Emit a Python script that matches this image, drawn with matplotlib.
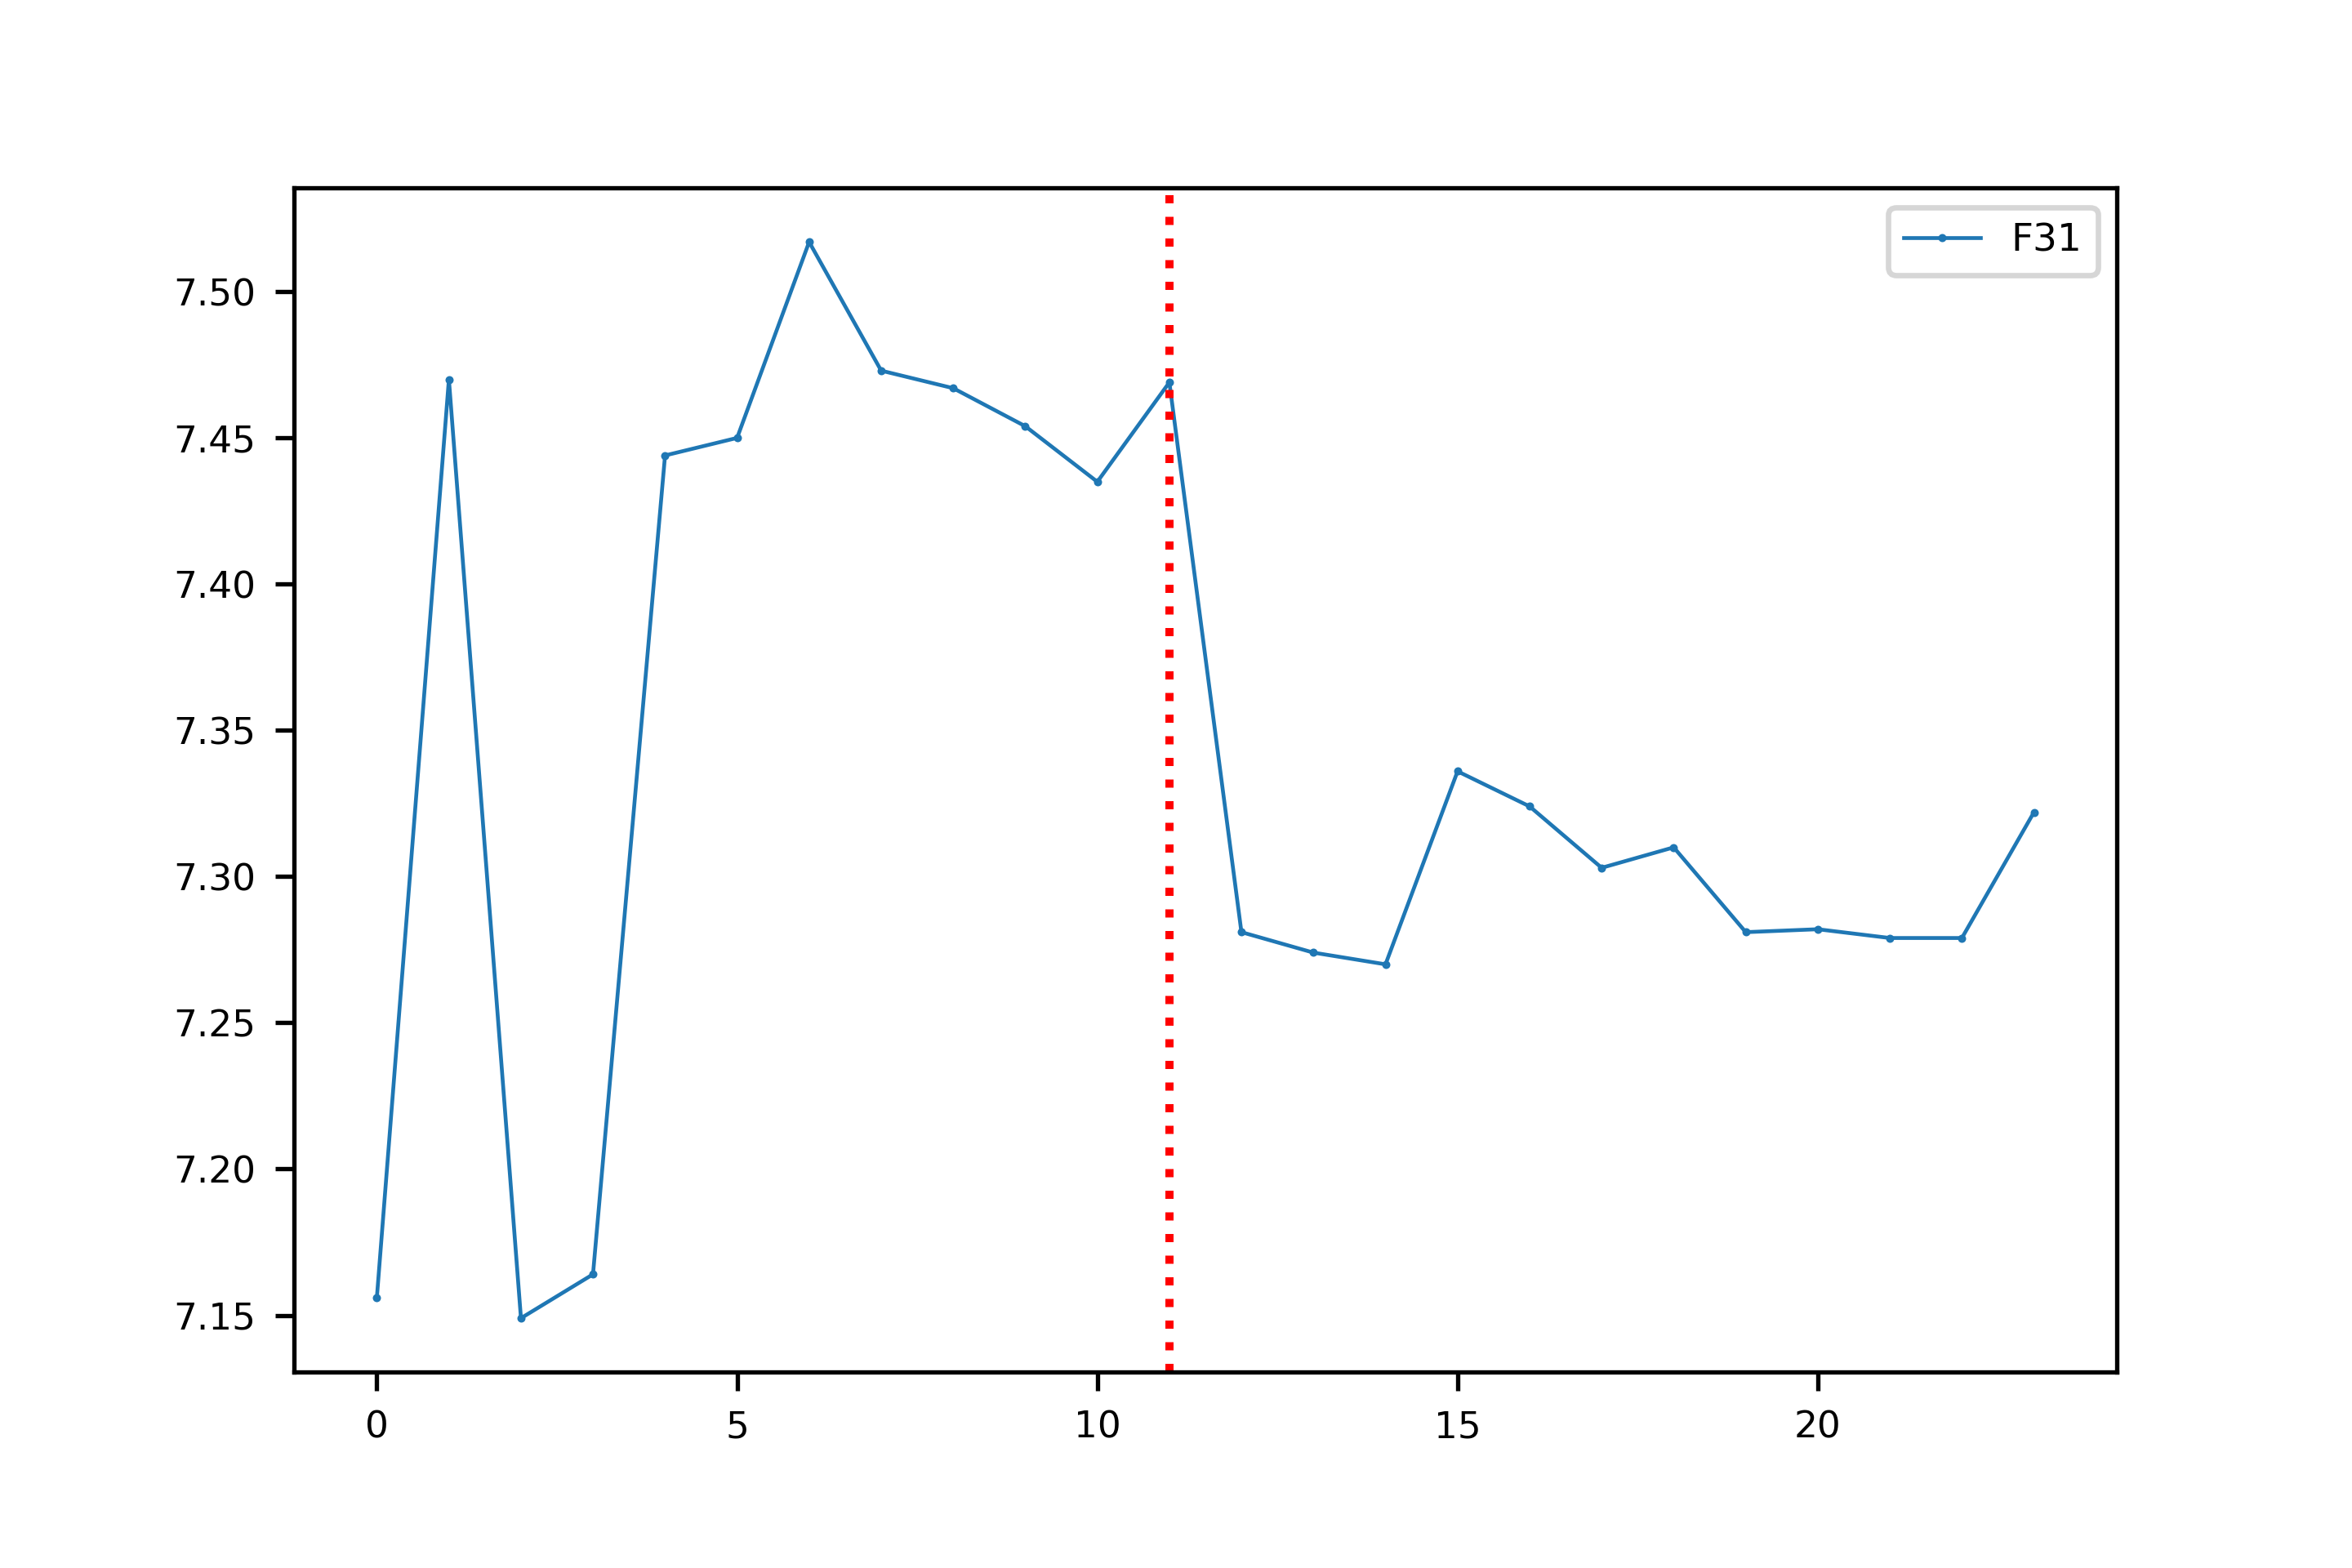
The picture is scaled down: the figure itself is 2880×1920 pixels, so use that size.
import numpy as np
import matplotlib.pyplot as plt

# valores da serie F31
x = np.arange(24)
f31 = [7.156, 7.470, 7.149, 7.164, 7.444, 7.450, 7.517, 7.473, 7.467, 7.454,
       7.435, 7.469, 7.281, 7.274, 7.270, 7.336, 7.324, 7.303, 7.310, 7.281,
       7.282, 7.279, 7.279, 7.322]
corte = 11

plt.rcParams['font.size'] = 6.8

fig = plt.figure(figsize=(6, 4))
ax = fig.add_axes([0.125, 0.125, 0.775, 0.755])

ax.plot(x, f31, marker='.', markersize=1, linewidth=0.7, label='F31')
ax.axvline(corte, color='red', linestyle=':', linewidth=1.5)

ax.legend(fontsize=7.05)
fig.savefig('out.png', dpi=480)
